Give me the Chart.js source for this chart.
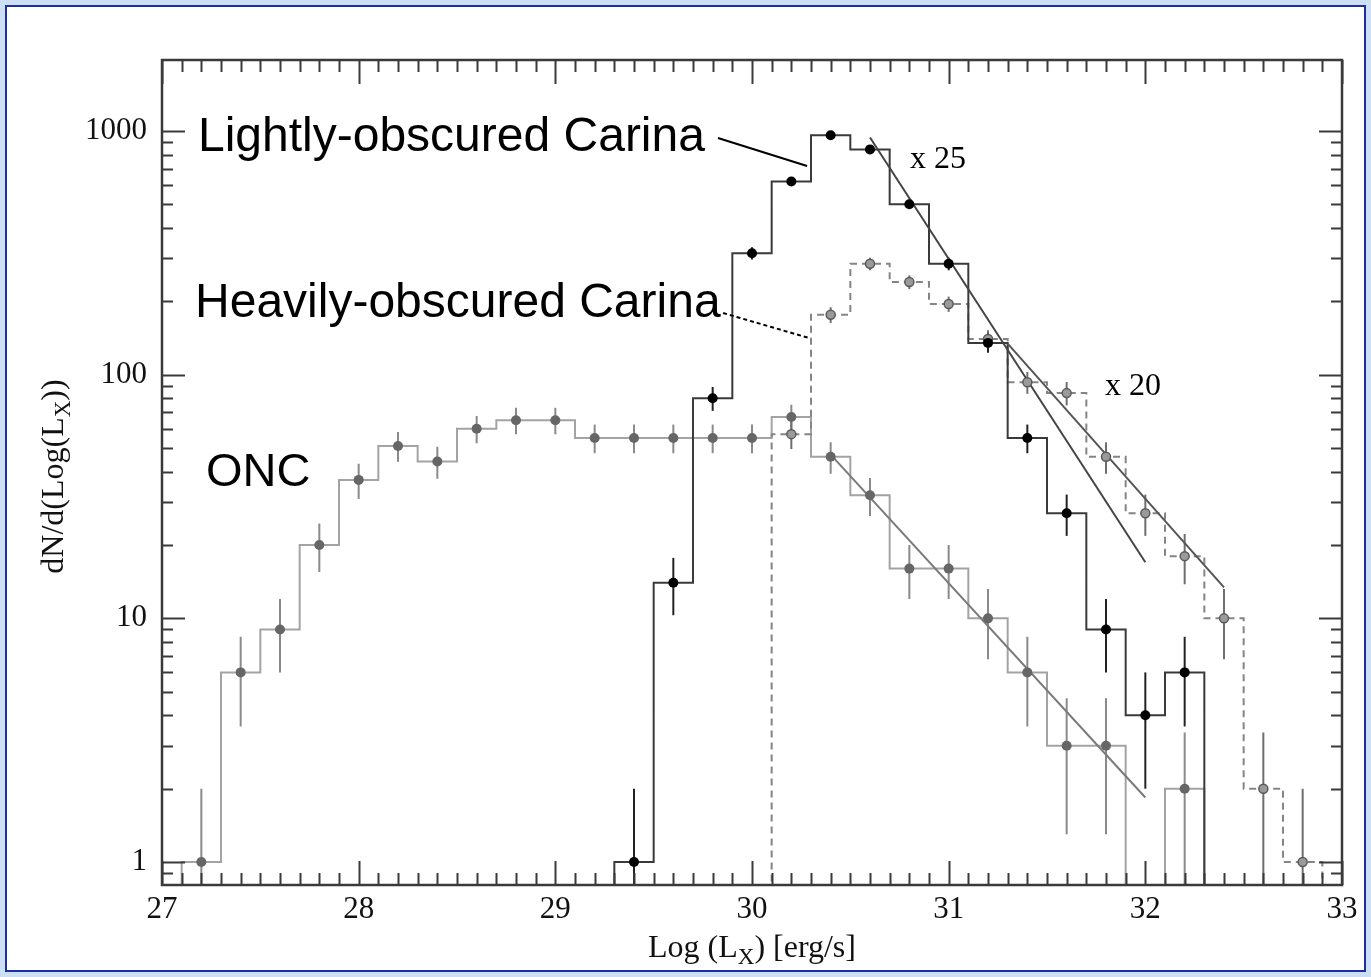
<!DOCTYPE html>
<html><head><meta charset="utf-8">
<script src="https://cdn.jsdelivr.net/npm/chart.js@4.4.1/dist/chart.umd.min.js"></script>
<style>
html,body{margin:0;padding:0;background:#cddff4;width:1371px;height:977px;overflow:hidden;}
#frame{position:absolute;left:5px;top:5px;width:1361px;height:967px;box-sizing:border-box;border:2px solid #1d2f9e;background:#fff;}
#c{position:absolute;left:0;top:0;}
</style></head><body>
<div id="frame"></div>
<canvas id="c" width="1371" height="977"></canvas>
<script>
// ---------- data ----------
const xTickValues = [27, 28, 29, 30, 31, 32, 33];
const yTickValues = [1, 10, 100, 1000];
const binWidth = 0.2;

// ONC
const oncCenters = [27.2,27.4,27.6,27.8,28.0,28.2,28.4,28.6,28.8,29.0,29.2,29.4,29.6,29.8,30.0,30.2,30.4,30.6,30.8,31.0,31.2,31.4,31.6,31.8,32.0,32.2];
const oncValues  = [1,6,9,20,37,51,44,60,65,65,55,55,55,55,55,67,46,32,16,16,10,6,3,3,0,2];
const oncErrors  = [1,2.4,3,4.5,6.1,7.1,6.6,7.7,8.1,8.1,7.4,7.4,7.4,7.4,7.4,8.2,6.8,5.7,4,4,3.2,2.4,1.7,1.7,0,1.4];

// Lightly-obscured Carina (x 25)
const lightCenters = [29.4,29.6,29.8,30.0,30.2,30.4,30.6,30.8,31.0,31.2,31.4,31.6,31.8,32.0,32.2];
const lightValues  = [1,14,80,315,620,960,840,500,285,135,55,27,9,4,6];
const lightErrors  = [1,3.7,9,18,25,31,29,22,17,12,7.4,5.2,3,2,2.4];

// Heavily-obscured Carina (x 20)
const heavyCenters = [30.2,30.4,30.6,30.8,31.0,31.2,31.4,31.6,31.8,32.0,32.2,32.4,32.6,32.8];
const heavyValues  = [57,176,285,240,195,140,93,84,46,27,18,10,2,1];
const heavyErrors  = [7.5,13,17,15.5,14,12,9.6,9.2,6.8,5.2,4.2,3.2,1.4,1];

// power-law fits (end points)
const fitLightX = [30.6, 32.0], fitLightY = [940, 17];
const fitHeavyX = [31.3, 32.4], fitHeavyY = [134, 13.4];
const fitOncX   = [30.4, 32.0], fitOncY   = [47, 1.84];

// ---------- helpers ----------
const FLOOR = 0.01; // zero counts -> drawn below the axis (clipped)
function stepPoints(centers, values) {
  const h = binWidth / 2;
  const pts = [{x: centers[0] - h, y: FLOOR}];
  centers.forEach((c, i) => {
    const v = values[i] > 0 ? values[i] : FLOOR;
    pts.push({x: c - h, y: v}, {x: c + h, y: v});
  });
  pts.push({x: centers[centers.length - 1] + h, y: FLOOR});
  return pts;
}
function markerPoints(centers, values) {
  return centers.map((c, i) => ({x: c, y: values[i]})).filter(p => p.y > 0);
}
function pairs(xs, ys) { return xs.map((x, i) => ({x, y: ys[i]})); }

const errorSets = [
  {centers: oncCenters,   values: oncValues,   errors: oncErrors,   color: '#8a8a8a'},
  {centers: heavyCenters, values: heavyValues, errors: heavyErrors, color: '#6e6e6e'},
  {centers: lightCenters, values: lightValues, errors: lightErrors, color: '#222'}
];

const annotations = [
  {text: 'Lightly-obscured Carina', x: 27.183, y: 825, font: '48px "Liberation Sans", Arial, sans-serif'},
  {text: 'Heavily-obscured Carina', x: 27.168, y: 172, font: '48px "Liberation Sans", Arial, sans-serif'},
  {text: 'ONC', x: 27.224, y: 34.9, font: '47px "Liberation Sans", Arial, sans-serif'},
  {text: 'x 25', x: 30.803, y: 702, font: '32px "Liberation Serif", "Times New Roman", serif'},
  {text: 'x 20', x: 31.795, y: 82.3, font: '32px "Liberation Serif", "Times New Roman", serif'}
];
const leaders = [
  {x: [29.827, 30.280], y: [935, 718], dash: []},
  {x: [29.853, 30.295], y: [179, 141], dash: [4, 3]}
];

// ---------- plugins ----------
const errorBars = {
  id: 'errorBars',
  beforeDatasetsDraw(chart) {
    const {ctx, chartArea: a, scales: {x, y}} = chart;
    ctx.save();
    ctx.beginPath(); ctx.rect(a.left, a.top, a.width, a.height); ctx.clip();
    ctx.lineWidth = 2;
    errorSets.forEach(s => {
      ctx.strokeStyle = s.color;
      s.centers.forEach((c, i) => {
        const v = s.values[i], e = s.errors[i];
        if (!(v > 0)) return;
        const lo = Math.max(v - e, FLOOR), hi = v + e;
        const px = x.getPixelForValue(c);
        ctx.beginPath();
        ctx.moveTo(px, y.getPixelForValue(lo));
        ctx.lineTo(px, y.getPixelForValue(hi));
        ctx.stroke();
      });
    });
    ctx.restore();
  }
};

const frameTicks = {
  id: 'frameTicks',
  afterDatasetsDraw(chart) {
    const {ctx, chartArea: a, scales: {x, y}} = chart;
    ctx.save();
    ctx.strokeStyle = '#3a3a3a';
    ctx.lineWidth = 2;
    ctx.beginPath();
    const nMinor = Math.round((x.max - x.min) / 0.1);
    for (let i = 0; i <= nMinor; i++) {
      const v = x.min + i * 0.1;
      const px = Math.round(x.getPixelForValue(v)) + 0.5;
      const len = (i % 10 === 0) ? 24 : 12;
      ctx.moveTo(px, a.bottom); ctx.lineTo(px, a.bottom - len);
      ctx.moveTo(px, a.top); ctx.lineTo(px, a.top + len);
    }
    for (let d = 0.1; d <= 1000; d *= 10) {
      for (let m = 1; m <= 9; m++) {
        const v = m * d;
        if (v < y.min || v > y.max) continue;
        const py = Math.round(y.getPixelForValue(v)) + 0.5;
        const len = m === 1 ? 23 : 11;
        ctx.moveTo(a.left, py); ctx.lineTo(a.left + len, py);
        ctx.moveTo(a.right, py); ctx.lineTo(a.right - len, py);
      }
    }
    ctx.stroke();
    ctx.lineWidth = 2.5;
    ctx.strokeRect(a.left, a.top, a.width, a.height);
    ctx.restore();
  }
};

const texts = {
  id: 'texts',
  afterDraw(chart) {
    const {ctx, chartArea: a, scales: {x, y}} = chart;
    ctx.save();
    ctx.fillStyle = '#000';
    ctx.textBaseline = 'alphabetic';
    ctx.textAlign = 'left';
    annotations.forEach(t => {
      ctx.font = t.font;
      ctx.fillText(t.text, x.getPixelForValue(t.x), y.getPixelForValue(t.y));
    });
    ctx.strokeStyle = '#000';
    ctx.lineWidth = 2;
    leaders.forEach(l => {
      ctx.setLineDash(l.dash);
      ctx.beginPath();
      ctx.moveTo(x.getPixelForValue(l.x[0]), y.getPixelForValue(l.y[0]));
      ctx.lineTo(x.getPixelForValue(l.x[1]), y.getPixelForValue(l.y[1]));
      ctx.stroke();
    });
    ctx.setLineDash([]);

    // axis titles with subscripts
    const big = '32px "Liberation Serif", "Times New Roman", serif';
    const small = '23px "Liberation Serif", "Times New Roman", serif';
    function drawParts(parts, cx, baseY) {
      let total = 0;
      parts.forEach(p => { ctx.font = p.sub ? small : big; total += ctx.measureText(p.t).width; });
      let cur = cx - total / 2;
      parts.forEach(p => {
        ctx.font = p.sub ? small : big;
        ctx.fillText(p.t, cur, baseY + (p.sub ? 7 : 0));
        cur += ctx.measureText(p.t).width;
      });
    }
    ctx.fillStyle = '#111';
    drawParts([{t: 'Log (L'}, {t: 'X', sub: true}, {t: ') [erg/s]'}], (a.left + a.right) / 2, 957);
    ctx.save();
    ctx.translate(63, (a.top + a.bottom) / 2 + 4);
    ctx.rotate(-Math.PI / 2);
    drawParts([{t: 'dN/d(Log(L'}, {t: 'X', sub: true}, {t: '))'}], 0, 0);
    ctx.restore();
    ctx.restore();
  }
};

// ---------- chart ----------
const tickFont = {family: '"Liberation Serif", "Times New Roman", serif', size: 31};
new Chart(document.getElementById('c'), {
  type: 'line',
  data: {
    datasets: [
      {label: 'ONC', data: stepPoints(oncCenters, oncValues), borderColor: '#a3a3a3', borderWidth: 2, pointRadius: 0, fill: false, order: 5},
      {label: 'Heavily-obscured Carina', data: stepPoints(heavyCenters, heavyValues), borderColor: '#858585', borderWidth: 2, borderDash: [7, 5], pointRadius: 0, fill: false, order: 4},
      {label: 'Lightly-obscured Carina', data: stepPoints(lightCenters, lightValues), borderColor: '#3a3a3a', borderWidth: 2, pointRadius: 0, fill: false, order: 3},
      {label: 'fit ONC', data: pairs(fitOncX, fitOncY), borderColor: '#7a7a7a', borderWidth: 2, pointRadius: 0, order: 2},
      {label: 'fit x25', data: pairs(fitLightX, fitLightY), borderColor: '#444', borderWidth: 2, pointRadius: 0, order: 2},
      {label: 'fit x20', data: pairs(fitHeavyX, fitHeavyY), borderColor: '#555', borderWidth: 2, pointRadius: 0, order: 2},
      {label: 'ONC pts', data: markerPoints(oncCenters, oncValues), showLine: false, pointRadius: 5, pointBackgroundColor: '#666', pointBorderColor: '#666', pointBorderWidth: 0, order: 1},
      {label: 'heavy pts', data: markerPoints(heavyCenters, heavyValues), showLine: false, pointRadius: 4.5, pointBackgroundColor: '#9a9a9a', pointBorderColor: '#5a5a5a', pointBorderWidth: 1.5, order: 1},
      {label: 'light pts', data: markerPoints(lightCenters, lightValues), showLine: false, pointRadius: 5, pointBackgroundColor: '#000', pointBorderColor: '#000', pointBorderWidth: 0, order: 0}
    ]
  },
  options: {
    responsive: false,
    animation: false,
    events: [],
    layout: {padding: {top: 60, right: 29, left: 0, bottom: 0}},
    plugins: {legend: {display: false}, tooltip: {enabled: false}},
    scales: {
      x: {
        type: 'linear', min: 27, max: 33,
        grid: {display: false, drawTicks: false},
        border: {display: false},
        ticks: {font: tickFont, color: '#111', padding: 6, maxRotation: 0},
        afterBuildTicks: s => { s.ticks = xTickValues.map(v => ({value: v})); },
        afterFit: s => { s.height = 92; }
      },
      y: {
        type: 'logarithmic', min: 0.805, max: 1955,
        grid: {display: false, drawTicks: false},
        border: {display: false},
        ticks: {font: tickFont, color: '#111', padding: 15, callback: v => String(v)},
        afterBuildTicks: s => { s.ticks = yTickValues.map(v => ({value: v})); },
        afterFit: s => { s.width = 162; }
      }
    }
  },
  plugins: [errorBars, frameTicks, texts]
});
</script>
</body></html>
